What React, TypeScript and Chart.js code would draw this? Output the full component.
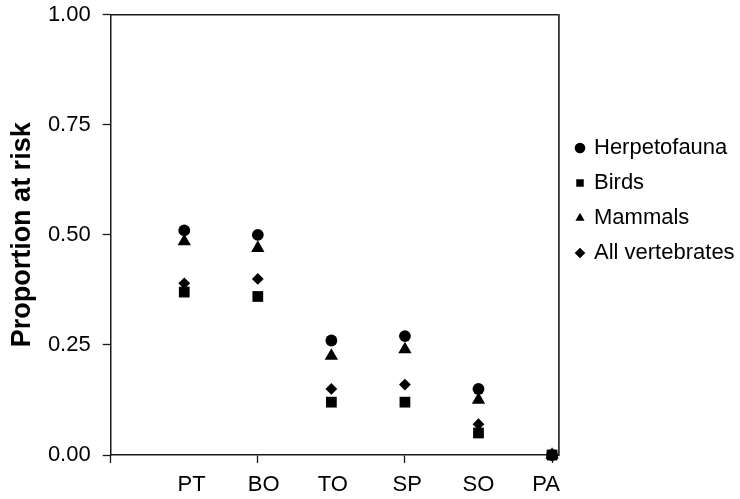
import React, { useEffect, useRef } from "react";
import { Chart, registerables } from "chart.js";

Chart.register(...registerables);

// Biomes along the x axis
const CATEGORIES = ["PT", "BO", "TO", "SP", "SO", "PA"];

// Proportion of species at risk per group
const HERPETOFAUNA = [0.51, 0.5, 0.26, 0.27, 0.15, 0.0];
const BIRDS = [0.37, 0.36, 0.12, 0.12, 0.05, 0.0];
const MAMMALS = [0.485, 0.47, 0.225, 0.24, 0.125, 0.0];
const ALL_VERTEBRATES = [0.39, 0.4, 0.15, 0.16, 0.07, 0.0];

const Y_TICKS = [0, 0.25, 0.5, 0.75, 1.0];
// Tick marks on the x axis
const X_MARKS = [0, 2, 4, 6];
// Where each biome name sits along the x axis (axis units)
const X_LABEL_AT = [1.1, 2.08, 3.02, 4.03, 5.0, 5.92];

const FONT = "'Liberation Sans', Arial, Helvetica, sans-serif";
const INK = "#000";
const AXIS = "#1a1a1a";

const toPoints = (vals: number[]) =>
  vals.map((v, i) => ({ x: i + 1, y: v }));

// Places the legend block beside the plot frame.
const LEGEND_LEFT = 564;
const LEGEND_TOP = 124;
const LEGEND_RIGHT = 740;
const legendPlacement = {
  id: "legendPlacement",
  afterLayout(chart: any) {
    const lg = chart.legend;
    if (!lg) return;
    const dy = LEGEND_TOP - lg.top;
    lg.left = LEGEND_LEFT;
    lg.right = LEGEND_RIGHT;
    lg.width = LEGEND_RIGHT - LEGEND_LEFT;
    lg.top += dy;
    lg.bottom += dy;
  },
};

const noEdgePadding = (s: any) => {
  s.paddingTop = 0;
  s.paddingBottom = 0;
  s.paddingLeft = 0;
  s.paddingRight = 0;
};

export default function App() {
  const ref = useRef<HTMLCanvasElement | null>(null);

  useEffect(() => {
    if (!ref.current) return;
    const mk = (label: string, vals: number[], style: string, r: number) => ({
      label,
      data: toPoints(vals),
      pointStyle: style,
      pointRadius: r,
      pointHoverRadius: r,
      pointBackgroundColor: INK,
      pointBorderColor: INK,
      pointBorderWidth: 0,
      backgroundColor: INK,
      borderColor: INK,
      showLine: false,
      clip: false,
    });

    const xTicks = [
      ...X_MARKS.map((v) => ({ value: v, mark: true, label: "" })),
      ...X_LABEL_AT.map((v, i) => ({ value: v, mark: false, label: CATEGORIES[i] })),
    ].sort((a, b) => a.value - b.value);

    const chart = new Chart(ref.current, {
      type: "scatter",
      data: {
        datasets: [
          mk("Herpetofauna", HERPETOFAUNA, "circle", 5.9),
          mk("Birds", BIRDS, "rect", 7.6),
          mk("Mammals", MAMMALS, "triangle", 7.7),
          mk("All vertebrates", ALL_VERTEBRATES, "rectRot", 5.9),
        ] as any,
      },
      options: {
        animation: false,
        responsive: false,
        devicePixelRatio: 1,
        layout: { padding: { top: 14.7, left: 0, right: 69.6, bottom: 0 } },
        plugins: {
          tooltip: { enabled: false },
          legend: {
            position: "right",
            align: "start",
            labels: {
              usePointStyle: true,
              boxWidth: 6,
              boxHeight: 7.5,
              padding: 13,
              color: INK,
              font: { family: FONT, size: 22 },
            },
          },
        },
        scales: {
          x: {
            type: "linear",
            position: "bottom",
            min: 0,
            max: 6.09,
            afterBuildTicks: (s: any) => {
              s.ticks = xTicks.map((t) => ({ ...t }));
            },
            afterFit: (s: any) => {
              s.height = 44;
              noEdgePadding(s);
            },
            ticks: {
              autoSkip: false,
              maxRotation: 0,
              padding: 9,
              color: INK,
              font: { family: FONT, size: 22 },
              callback: (_v: any, i: number) => xTicks[i]?.label ?? "",
            },
            grid: {
              drawOnChartArea: false,
              tickLength: 8,
              tickWidth: 1.3,
              tickColor: (c: any) =>
                xTicks[c.index]?.mark ? AXIS : "rgba(0,0,0,0)",
            },
            border: { display: true, color: AXIS, width: 1.5 },
          },
          xTop: {
            type: "linear",
            position: "top",
            min: 0,
            max: 6.09,
            afterFit: (s: any) => {
              s.height = 0;
              noEdgePadding(s);
            },
            ticks: { display: false },
            grid: { display: false, drawTicks: false },
            border: { display: true, color: AXIS, width: 1.5 },
          },
          y: {
            type: "linear",
            position: "left",
            min: 0,
            max: 1,
            afterBuildTicks: (s: any) => {
              s.ticks = Y_TICKS.map((v) => ({ value: v }));
            },
            afterFit: (s: any) => {
              s.width = 110.7;
              noEdgePadding(s);
            },
            ticks: {
              padding: 12,
              color: INK,
              font: { family: FONT, size: 22 },
              callback: (v: any) => Number(v).toFixed(2),
            },
            grid: {
              drawOnChartArea: false,
              tickLength: 8,
              tickWidth: 1.3,
              tickColor: AXIS,
            },
            border: { display: true, color: AXIS, width: 1.5 },
            title: {
              display: true,
              text: "Proportion at risk",
              color: INK,
              font: { family: FONT, size: 27, weight: "bold" },
              padding: { top: 6, bottom: 0 },
            },
          },
          yRight: {
            type: "linear",
            position: "right",
            min: 0,
            max: 1,
            afterFit: (s: any) => {
              s.width = 0;
              noEdgePadding(s);
            },
            ticks: { display: false },
            grid: { display: false, drawTicks: false },
            border: { display: true, color: "#333", width: 1.8 },
          },
        },
      } as any,
      plugins: [legendPlacement],
    });
    return () => chart.destroy();
  }, []);

  return (
    <div style={{ position: "absolute", left: 0, top: 0, width: 740, height: 499, background: "#fff" }}>
      <canvas ref={ref} width={740} height={499} />
    </div>
  );
}
